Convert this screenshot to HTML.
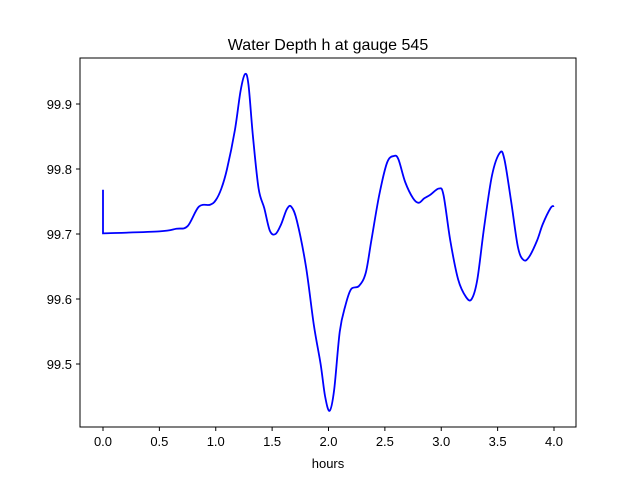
<!DOCTYPE html>
<html><head><meta charset="utf-8"><style>
body{margin:0;background:#fff}
svg{font-family:"Liberation Sans","DejaVu Sans",sans-serif}
</style></head><body>
<svg id="chart" width="640" height="480" viewBox="0 0 640 480">
<rect width="640" height="480" fill="#fff"/>
<text x="328" y="50" text-anchor="middle" font-size="16">Water Depth h at gauge 545</text>
<g id="xt"></g>
<g id="yt"></g>
<path id="line" fill="none" stroke="#0000ff" stroke-width="1.8"/>
<rect x="80" y="58" width="496" height="369" fill="none" stroke="#000" stroke-width="1"/>
<text x="328" y="468" text-anchor="middle" font-size="13">hours</text>
</svg>
<script>
const hours=[0,0,0.5,0.65,0.75,0.85,0.95,1.0,1.05,1.1,1.17,1.22,1.26,1.29,1.33,1.38,1.43,1.48,1.53,1.58,1.63,1.67,1.72,1.8,1.87,1.93,1.97,2.01,2.05,2.1,2.15,2.2,2.27,2.33,2.38,2.45,2.52,2.58,2.62,2.68,2.75,2.8,2.85,2.9,2.98,3.02,3.08,3.15,3.22,3.27,3.32,3.38,3.45,3.52,3.56,3.62,3.68,3.73,3.78,3.85,3.9,3.97,4.0];
const depth=[99.768,99.701,99.704,99.708,99.712,99.742,99.745,99.752,99.77,99.80,99.86,99.92,99.946,99.93,99.85,99.77,99.74,99.705,99.70,99.715,99.738,99.742,99.72,99.65,99.56,99.50,99.45,99.428,99.46,99.55,99.59,99.615,99.62,99.64,99.69,99.76,99.81,99.82,99.815,99.78,99.755,99.748,99.755,99.76,99.77,99.76,99.69,99.63,99.603,99.60,99.63,99.71,99.79,99.825,99.815,99.75,99.68,99.66,99.665,99.69,99.715,99.74,99.743];
const xTicks=[0,0.5,1,1.5,2,2.5,3,3.5,4];
const xLabels=["0.0","0.5","1.0","1.5","2.0","2.5","3.0","3.5","4.0"];
const yTicks=[99.5,99.6,99.7,99.8,99.9];
const yLabels=["99.5","99.6","99.7","99.8","99.9"];
const X=v=>103+v*112.75;
const Y=v=>234-(v-99.7)*650;
const NS="http://www.w3.org/2000/svg";
const xt=document.getElementById('xt'),yt=document.getElementById('yt');
xTicks.forEach((t,i)=>{
 const l=document.createElementNS(NS,'line');
 
 
 l.setAttribute('x1',X(t));l.setAttribute('x2',X(t));l.setAttribute('y1',427);l.setAttribute('y2',431);l.setAttribute('stroke','#000');
 xt.appendChild(l);
 const tx=document.createElementNS(NS,'text');
 
 
 tx.setAttribute('x',X(t));tx.setAttribute('y',446);tx.setAttribute('text-anchor','middle');tx.setAttribute('font-size','13');
 tx.textContent=xLabels[i];xt.appendChild(tx);
});
yTicks.forEach((t,i)=>{
 const l=document.createElementNS(NS,'line');
 
 
 l.setAttribute('x1',76);l.setAttribute('x2',80);l.setAttribute('y1',Y(t));l.setAttribute('y2',Y(t));l.setAttribute('stroke','#000');
 yt.appendChild(l);
 const tx=document.createElementNS(NS,'text');
 
 
 tx.setAttribute('x',72);tx.setAttribute('y',Y(t)+5);tx.setAttribute('text-anchor','end');tx.setAttribute('font-size','13');
 tx.textContent=yLabels[i];yt.appendChild(tx);
});
const P=hours.map((h,i)=>[X(h),Y(depth[i])]);
let d=`M${P[0][0]},${P[0][1]} L${P[1][0]},${P[1][1]}`;
for(let i=1;i<P.length-1;i++){
 const p0=P[Math.max(1,i-1)],p1=P[i],p2=P[i+1],p3=P[Math.min(P.length-1,i+2)];
 const c1=[p1[0]+(p2[0]-p0[0])/6,p1[1]+(p2[1]-p0[1])/6];
 const c2=[p2[0]-(p3[0]-p1[0])/6,p2[1]-(p3[1]-p1[1])/6];
 d+=` C${c1[0]},${c1[1]} ${c2[0]},${c2[1]} ${p2[0]},${p2[1]}`;
}
document.getElementById('line').setAttribute('d',d);
</script>
</body></html>
